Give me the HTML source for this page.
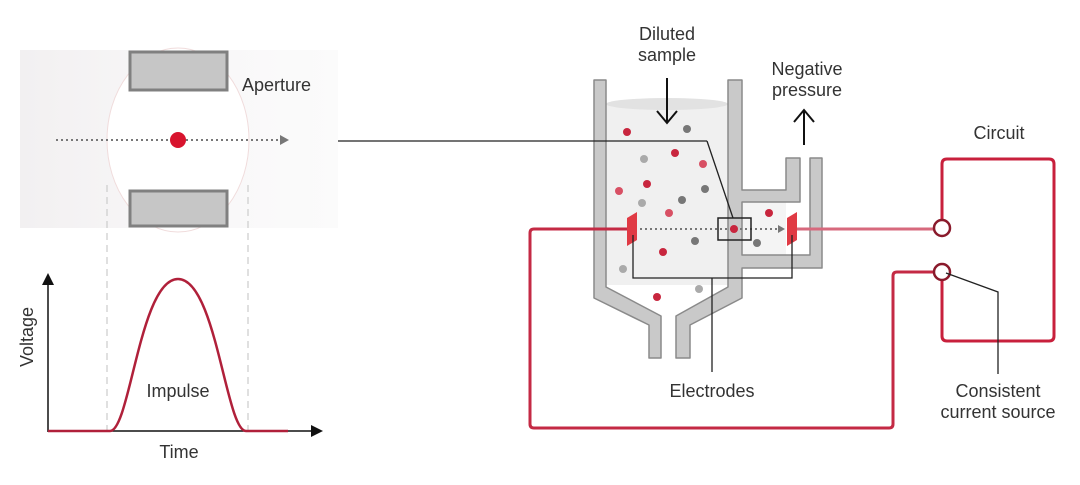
<!DOCTYPE html>
<html><head><meta charset="utf-8"><style>
html,body{margin:0;padding:0;background:#fff;}
svg{display:block;font-family:"Liberation Sans",sans-serif;}
</style></head><body>
<svg width="1080" height="485" viewBox="0 0 1080 485">
<defs>
<linearGradient id="bg" x1="0" x2="1"><stop offset="0" stop-color="#f2f0f1"/><stop offset="0.5" stop-color="#f8f7f8"/><stop offset="1" stop-color="#fbfbfb"/></linearGradient>
<marker id="ah" markerWidth="8" markerHeight="8" refX="6" refY="4" orient="auto"><path d="M0,0 L8,4 L0,8 z" fill="#111"/></marker>
</defs>
<rect x="20" y="50" width="318" height="178" fill="url(#bg)"/>
<ellipse cx="178" cy="140" rx="71" ry="92" fill="#fff" stroke="#f0dcdc" stroke-width="1"/>
<rect x="130" y="52" width="97" height="38" fill="#c6c6c6" stroke="#808080" stroke-width="3"/>
<rect x="130" y="191" width="97" height="35" fill="#c6c6c6" stroke="#808080" stroke-width="3"/>
<text x="242" y="91" font-size="18" fill="#333">Aperture</text>
<line x1="56" y1="140" x2="280" y2="140" stroke="#777" stroke-width="2" stroke-dasharray="2,3"/>
<path d="M280,135 L289,140 L280,145 z" fill="#777"/>
<circle cx="178" cy="140" r="8" fill="#d8142e"/>
<line x1="107" y1="185" x2="107" y2="431" stroke="#ccc" stroke-width="1.2" stroke-dasharray="7,5"/>
<line x1="248" y1="185" x2="248" y2="431" stroke="#ccc" stroke-width="1.2" stroke-dasharray="7,5"/>
<line x1="48" y1="432" x2="48" y2="276" stroke="#111" stroke-width="1.5" marker-end="url(#ah)"/>
<line x1="48" y1="431" x2="320" y2="431" stroke="#111" stroke-width="1.5" marker-end="url(#ah)"/>
<path d="M48,431 L110,431 C130,431 140,279 178,279 C216,279 226,431 246,431 L288,431" fill="none" stroke="#b0203a" stroke-width="2.5"/>
<text x="178" y="397" font-size="18" fill="#333" text-anchor="middle">Impulse</text>
<text x="179" y="458" font-size="18" fill="#333" text-anchor="middle">Time</text>
<text transform="translate(33,337) rotate(-90)" font-size="18" fill="#333" text-anchor="middle">Voltage</text>
<path d="M606,104 L728,104 L728,285 L606,285 z" fill="#f0f0f0"/>
<ellipse cx="667" cy="104" rx="61" ry="6" fill="#e2e2e2"/>
<rect x="742" y="202" width="44" height="53" fill="#f4f4f4"/>
<g fill="#c9c9c9" stroke="#8a8a8a" stroke-width="1.5" stroke-linejoin="round">
<path d="M594,80 L606,80 L606,287 L661,316 L661,358 L649,358 L649,325 L594,298 z"/>
<path d="M728,80 L742,80 L742,190 L786,190 L786,158 L800,158 L800,202 L742,202 L742,255 L810,255 L810,158 L822,158 L822,268 L742,268 L742,298 L690,325 L690,358 L676,358 L676,316 L728,287 z"/>
</g>
<g>
<circle cx="627" cy="132" r="4" fill="#c8263e"/><circle cx="687" cy="129" r="4" fill="#777"/>
<circle cx="675" cy="153" r="4" fill="#c8263e"/><circle cx="644" cy="159" r="4" fill="#aaa"/>
<circle cx="703" cy="164" r="4" fill="#d85064"/><circle cx="619" cy="191" r="4" fill="#d85064"/>
<circle cx="647" cy="184" r="4" fill="#c8263e"/><circle cx="705" cy="189" r="4" fill="#777"/>
<circle cx="682" cy="200" r="4" fill="#777"/><circle cx="642" cy="203" r="4" fill="#aaa"/>
<circle cx="669" cy="213" r="4" fill="#d85064"/><circle cx="769" cy="213" r="4" fill="#c8263e"/>
<circle cx="695" cy="241" r="4" fill="#777"/><circle cx="663" cy="252" r="4" fill="#c8263e"/>
<circle cx="757" cy="243" r="4" fill="#777"/><circle cx="623" cy="269" r="4" fill="#aaa"/>
<circle cx="699" cy="289" r="4" fill="#aaa"/><circle cx="657" cy="297" r="4" fill="#c8263e"/>
</g>
<line x1="338" y1="141" x2="707" y2="141" stroke="#222" stroke-width="1.3"/>
<polyline points="707,141 733,218" fill="none" stroke="#222" stroke-width="1.3"/>
<path d="M632,229 L534,229 Q530,229 530,233 L530,424 Q530,428 534,428 L889,428 Q893,428 893,424 L893,276 Q893,272 897,272 L934,272" fill="none" stroke="#c42a44" stroke-width="3"/>
<line x1="790" y1="229" x2="934" y2="229" stroke="#d7697d" stroke-width="3"/>
<path d="M942,219 L942,164 Q942,159 947,159 L1049,159 Q1054,159 1054,164 L1054,336 Q1054,341 1049,341 L947,341 Q942,341 942,336 L942,280" fill="none" stroke="#c8203c" stroke-width="3"/>
<circle cx="942" cy="228" r="8" fill="#fff" stroke="#8a1a2c" stroke-width="2.5"/>
<circle cx="942" cy="272" r="8" fill="#fff" stroke="#8a1a2c" stroke-width="2.5"/>
<polyline points="946,273 998,292 998,374" fill="none" stroke="#222" stroke-width="1.3"/>
<path d="M627,218 L637,212 L637,240 L627,246 z" fill="#e03a44"/>
<path d="M787,218 L797,212 L797,240 L787,246 z" fill="#e03a44"/>
<line x1="640" y1="229" x2="778" y2="229" stroke="#777" stroke-width="2" stroke-dasharray="2,3"/>
<path d="M778,225 L785,229 L778,233 z" fill="#777"/>
<rect x="718" y="218" width="33" height="22" fill="none" stroke="#222" stroke-width="1.5"/>
<circle cx="734" cy="229" r="4" fill="#c8263e"/>
<polyline points="633,235 633,278 792,278 792,235" fill="none" stroke="#222" stroke-width="1.3"/>
<line x1="712" y1="278" x2="712" y2="372" stroke="#222" stroke-width="1.3"/>
<line x1="667" y1="78" x2="667" y2="122" stroke="#111" stroke-width="2"/>
<polyline points="657,111 667,123 677,111" fill="none" stroke="#111" stroke-width="2"/>
<line x1="804" y1="145" x2="804" y2="110" stroke="#111" stroke-width="2"/>
<polyline points="794,122 804,110 814,122" fill="none" stroke="#111" stroke-width="2"/>
<g font-size="18" fill="#333" text-anchor="middle">
<text x="667" y="40">Diluted</text><text x="667" y="61">sample</text>
<text x="807" y="75">Negative</text><text x="807" y="96">pressure</text>
<text x="999" y="139">Circuit</text>
<text x="712" y="397">Electrodes</text>
<text x="998" y="397">Consistent</text><text x="998" y="418">current source</text>
</g>
</svg>
</body></html>
